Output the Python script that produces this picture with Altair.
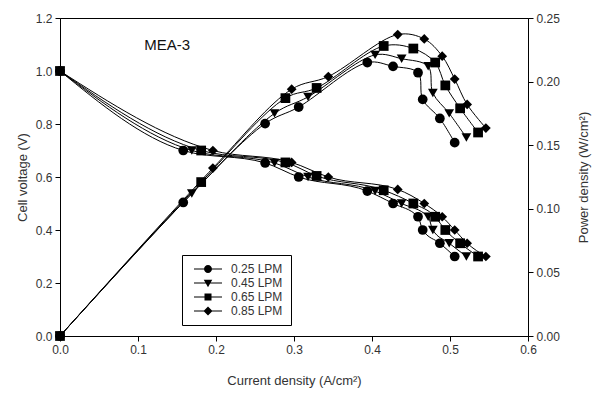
import altair as alt
import pandas as pd

flows = ["0.25 LPM", "0.45 LPM", "0.65 LPM", "0.85 LPM"]

# current density (A/cm2)
i_025 = [0, 0.158, 0.263, 0.306, 0.394, 0.427, 0.459, 0.465, 0.487, 0.506]
i_045 = [0, 0.169, 0.275, 0.318, 0.404, 0.438, 0.472, 0.478, 0.499, 0.521]
i_065 = [0, 0.181, 0.289, 0.329, 0.415, 0.453, 0.481, 0.494, 0.513, 0.536]
i_085 = [0, 0.196, 0.297, 0.344, 0.433, 0.467, 0.490, 0.506, 0.522, 0.546]

# cell voltage (V)
v_025 = [1.0, 0.70, 0.653, 0.600, 0.547, 0.500, 0.450, 0.400, 0.350, 0.300]
v_045 = [1.0, 0.70, 0.653, 0.600, 0.547, 0.500, 0.450, 0.400, 0.350, 0.300]
v_065 = [1.0, 0.70, 0.655, 0.604, 0.550, 0.500, 0.450, 0.400, 0.350, 0.300]
v_085 = [1.0, 0.70, 0.655, 0.600, 0.553, 0.500, 0.450, 0.400, 0.350, 0.300]

# power density (W/cm2)
p_025 = [0, 0.105, 0.167, 0.180, 0.215, 0.212, 0.207, 0.186, 0.171, 0.152]
p_045 = [0, 0.112, 0.175, 0.188, 0.221, 0.218, 0.212, 0.191, 0.175, 0.156]
p_065 = [0, 0.121, 0.187, 0.195, 0.228, 0.226, 0.215, 0.197, 0.179, 0.160]
p_085 = [0, 0.132, 0.194, 0.204, 0.237, 0.2335, 0.220, 0.202, 0.182, 0.1635]

x_ticks = [0.0, 0.1, 0.2, 0.3, 0.4, 0.5, 0.6]
v_ticks = [0.0, 0.2, 0.4, 0.6, 0.8, 1.0, 1.2]
p_ticks = [0.0, 0.05, 0.10, 0.15, 0.20, 0.25]

rows = []
for f, I, V, P in zip(flows, [i_025, i_045, i_065, i_085],
                      [v_025, v_045, v_065, v_085],
                      [p_025, p_045, p_065, p_085]):
    for k, (a, b, c) in enumerate(zip(I, V, P)):
        rows.append({"flow": f, "I": a, "V": b, "P": c, "k": k})
df = pd.DataFrame(rows)

FONT = "Liberation Sans"
TXT = "#333333"

shapes = ["circle", "triangle-down", "square", "diamond"]
# legend glyphs: a thin filled bar (the line) plus the marker, both clockwise
BAR = "M-2.8,-0.11H2.8V0.11H-2.8Z"
legend_paths = [
    BAR + "M0.8,0A0.8,0.8 0 1,1 -0.8,0A0.8,0.8 0 1,1 0.8,0Z",
    BAR + "M-0.85,-0.65L0.85,-0.65L0,0.85Z",
    BAR + "M-0.7,-0.7H0.7V0.7H-0.7Z",
    BAR + "M0,-0.9L0.9,0L0,0.9L-0.9,0Z",
]

axis_common = dict(
    labelFont=FONT, labelFontSize=12, labelColor=TXT,
    titleFont=FONT, titleFontSize=13, titleColor=TXT, titleFontWeight="normal",
    domainColor="black", tickColor="black", tickSize=5, labelPadding=3,
    grid=False, labelFlush=False,
)

x_enc = alt.X(
    "I:Q",
    scale=alt.Scale(domain=[0, 0.6], nice=False),
    axis=alt.Axis(values=x_ticks, format=".1f", title="Current density (A/cm²)",
                  titlePadding=19, **axis_common),
)
v_scale = alt.Scale(domain=[0, 1.2], nice=False)
p_scale = alt.Scale(domain=[0, 0.25], nice=False)

yv = alt.Y("V:Q", scale=v_scale,
           axis=alt.Axis(values=v_ticks, format=".1f", title="Cell voltage (V)",
                         orient="left", titlePadding=6, **axis_common))
yp = alt.Y("P:Q", scale=p_scale,
           axis=alt.Axis(values=p_ticks, format=".2f", title="Power density (W/cm²)",
                         orient="right", titleAngle=270, titlePadding=31, **axis_common))

shape_scale = alt.Scale(domain=flows, range=shapes)

base = alt.Chart(df)

volt_line = base.mark_line(color="black", strokeWidth=1, interpolate="monotone").encode(
    x=x_enc, y=yv, detail="flow:N", order="k:Q")
volt_pts = base.mark_point(filled=True, color="black", size=95, opacity=1).encode(
    x=x_enc, y=yv, shape=alt.Shape("flow:N", scale=shape_scale, legend=None))
label_df = pd.DataFrame({"I": [0.108], "V": [1.1], "t": ["MEA-3"]})
label = alt.Chart(label_df).mark_text(align="left", baseline="middle", font=FONT,
                                      fontSize=15, color="#111111").encode(
    x=alt.X("I:Q", scale=alt.Scale(domain=[0, 0.6], nice=False)),
    y=alt.Y("V:Q", scale=v_scale), text="t:N")
volt = alt.layer(volt_line, volt_pts, label)

pow_line = base.mark_line(color="black", strokeWidth=1, interpolate="catmull-rom").encode(
    x=x_enc, y=yp, detail="flow:N", order="k:Q")
pow_pts = base.mark_point(filled=True, color="black", size=95, opacity=1).encode(
    x=x_enc, y=yp, shape=alt.Shape("flow:N", scale=shape_scale, legend=None))
power = alt.layer(pow_line, pow_pts)

leg = base.mark_point(filled=True, color="black", opacity=0).encode(
    x=x_enc,
    y=alt.Y("V:Q", scale=v_scale, axis=None),
    shape=alt.Shape(
        "flow:N",
        scale=alt.Scale(domain=flows, range=legend_paths),
        legend=alt.Legend(
            title=None, orient="none", legendX=122, legendY=237,
            symbolSize=100, symbolOpacity=1, symbolFillColor="black",
            symbolStrokeColor="black", symbolStrokeWidth=0,
            symbolOffset=12, labelOffset=17, padding=8, rowPadding=2,
            labelFont=FONT, labelFontSize=12, labelColor=TXT,
            strokeColor="black", fillColor="white",
        ),
    ),
)

chart = alt.layer(volt, power, leg).resolve_scale(
    y="independent", shape="independent"
).properties(
    width=468, height=318,
    padding={"left": 60, "top": 18, "right": 74, "bottom": 58},
    autosize=alt.AutoSizeParams(type="none"),
    background="white",
).configure_view(stroke="black", strokeWidth=1)

chart.save("out.html", embed_options={"renderer": "svg", "actions": False})
